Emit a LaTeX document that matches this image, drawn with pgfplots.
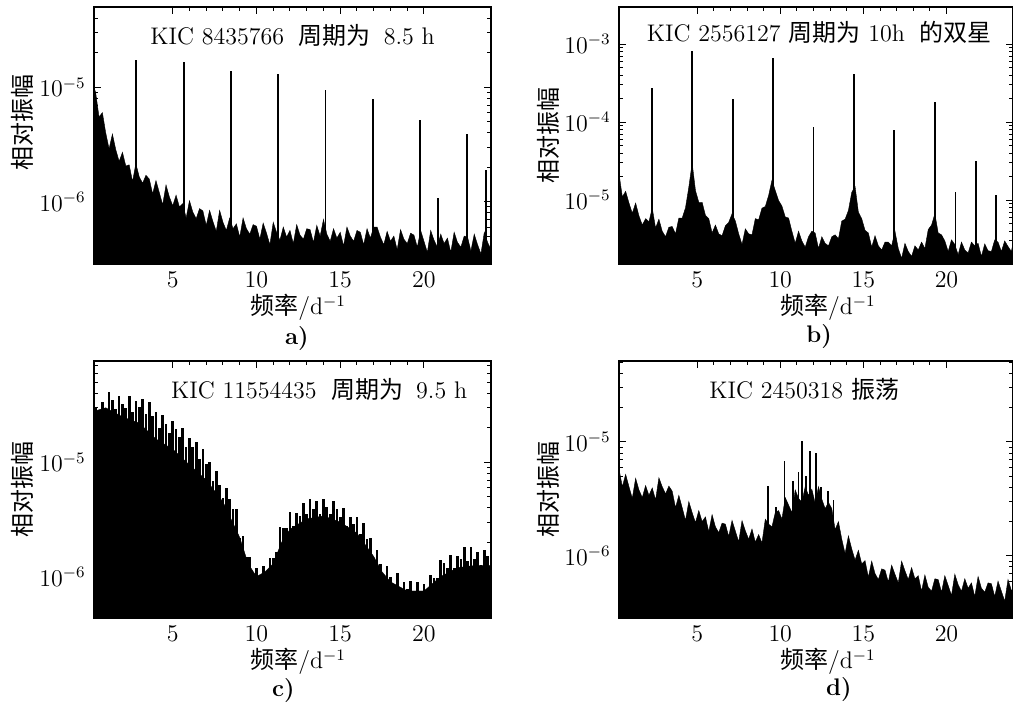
\documentclass[12pt,border=0pt]{standalone}
\usepackage{fontspec}
\newfontfamily\cjk{Noto Sans CJK SC}
\usepackage{pgfplots}
\pgfplotsset{compat=1.18}

% amplitudes are given in units of 1e-6 (relative amplitude)
\pgfplotsset{
  kicaxis/.style={
    scale only axis, height=128.5pt,
    log origin=infty, clip mode=individual,
    xmin=0.3, xmax=24,
    xtick={5,10,15,20}, minor x tick num=4,
    axis line style={line width=0.8pt},
    tick style={black, line width=0.5pt},
    major tick length=3.5pt, minor tick length=2pt,
    yticklabel={\pgfmathtruncatemacro\myexp{round(\tick/ln(10))-6}$10^{\myexp}$},
    ylabel={\cjk 相对振幅},
    xlabel={{\cjk 频率}/d$^{-1}$},
  },
  kicnoise/.style={black, fill=black, line width=0.2pt},
  kicspike/.style={ycomb, black, line width=0.9pt},
}

\begin{document}
\begin{tikzpicture}
\useasboundingbox (0,0) rectangle (506.5pt,354pt);

% ---------- a) ----------
\begin{axis}[ymode=log, kicaxis, at={(47pt,222pt)}, anchor=south west, width=198.5pt,
  ymin=0.285, ymax=50.4,
  ylabel style={at={(axis description cs:-0.18,0.55)}, rotate=0, anchor=center},
  xlabel style={at={(axis description cs:0.514,-0.17)}, anchor=center, inner sep=0.5pt}]
\addplot[kicnoise] table {
0.3 10.0
0.4 9.0
0.6 5.5
0.8 6.0
1.0 4.0
1.2 2.9
1.4 3.9
1.6 2.85
1.8 2.25
2.0 2.7
2.2 2.05
2.4 2.1
2.6 1.5
2.8 2.15
3.0 1.65
3.2 1.45
3.4 1.7
3.6 1.58
3.8 1.17
4.0 1.53
4.2 1.2
4.4 0.94
4.6 1.4
4.8 1.1
5.0 0.92
5.2 1.14
5.4 0.9
5.6 0.96
5.8 0.72
6.0 1.02
6.2 0.81
6.4 0.71
6.6 0.87
6.8 0.83
7.0 0.62
7.2 0.84
7.4 0.67
7.6 0.55
7.8 0.84
8.0 0.66
8.2 0.56
8.4 0.72
8.6 0.58
8.8 0.64
9.0 0.49
9.2 0.72
9.4 0.58
9.6 0.52
9.8 0.63
10.0 0.61
10.2 0.47
10.4 0.65
10.6 0.53
10.8 0.42
11.0 0.66
11.2 0.54
11.4 0.46
11.6 0.6
11.8 0.49
12.0 0.56
12.2 0.43
12.4 0.63
12.6 0.51
12.8 0.47
13.0 0.58
13.2 0.57
13.4 0.44
13.6 0.62
13.8 0.5
14.0 0.7
14.2 0.52
14.4 0.45
14.6 0.58
14.8 0.48
15.0 0.54
15.2 0.41
15.4 0.6
15.6 0.5
15.8 0.45
16.0 0.56
16.2 0.54
16.4 0.42
16.6 0.58
16.8 0.48
17.0 0.6
17.2 0.6
17.4 0.49
17.6 0.42
17.8 0.55
18.0 0.45
18.2 0.5
18.4 0.38
18.6 0.57
18.8 0.47
19.0 0.43
19.2 0.53
19.4 0.51
19.6 0.4
19.8 0.56
20.0 0.45
20.2 0.36
20.4 0.56
20.6 0.46
20.8 0.4
21.0 0.52
21.2 0.43
21.4 0.48
21.6 0.36
21.8 0.54
22.0 0.44
22.2 0.4
22.4 0.5
22.6 0.49
22.8 0.37
23.0 0.52
23.2 0.42
23.4 0.35
23.6 0.54
23.8 0.44
24.0 0.38
} \closedcycle;
\addplot[kicspike] coordinates {
(2.82,17.5) (5.65,16.8) (8.47,13.8) (11.29,13.0) (14.12,9.4)
(16.94,7.9) (19.76,5.2) (20.85,1.07) (22.59,3.9) (23.72,1.9)
};
\node at (axis description cs:0.5,0.89)
  {KIC 8435766\hspace{0.6em}{\cjk 周期为}\hspace{0.55em}8.5 h};
\node at (axis description cs:0.511,-0.288) {\textbf{a)}};
\end{axis}

% ---------- b) ----------
\begin{axis}[ymode=log, kicaxis, at={(309.5pt,222pt)}, anchor=south west, width=197pt,
  ymin=1.52, ymax=3000,
  ylabel style={at={(axis description cs:-0.178,0.5)}, rotate=0, anchor=center},
  xlabel style={at={(axis description cs:0.53,-0.17)}, anchor=center, inner sep=0.5pt}]
\addplot[kicnoise] table {
0.3 22
0.5 11
0.7 13
0.9 9.2
1.1 6.8
1.3 9.2
1.5 6.3
1.7 4.8
1.9 5.8
2.1 5.3
2.3 7.9
2.5 4.4
2.7 5.7
2.9 4.0
3.1 3.4
3.3 4.5
3.5 4.6
3.7 3.7
3.9 5.9
4.1 5.9
4.3 8.0
4.5 14.7
4.7 30
4.9 13.3
5.1 9.4
5.3 9.4
5.5 6.4
5.7 5.8
5.9 3.8
6.1 4.8
6.3 3.7
6.5 3.5
6.7 4.7
6.9 5.2
7.1 6.7
7.3 5.4
7.5 3.7
7.7 2.7
7.9 4.3
8.1 3.7
8.3 3.6
8.5 5.8
8.7 5.6
8.9 7.9
9.1 8.3
9.3 11.5
9.5 18
9.7 13.3
9.9 9.9
10.1 8.4
10.3 6.1
10.5 5.9
10.7 4.0
10.9 2.8
11.1 4.0
11.3 3.0
11.5 2.5
11.7 3.4
11.9 4.0
12.1 3.8
12.3 2.4
12.5 3.4
12.7 2.8
12.9 2.6
13.1 3.4
13.3 3.6
13.5 3.2
13.7 5.4
13.9 5.7
14.1 7.4
14.3 12.6
14.5 15
14.7 7.0
14.9 5.8
15.1 4.1
15.3 3.8
15.5 2.5
15.7 3.5
15.9 2.6
16.1 2.3
16.3 2.9
16.5 2.9
16.7 2.6
16.9 4.0
17.1 2.4
17.3 1.8
17.5 2.8
17.7 2.2
17.9 1.9
18.1 2.6
18.3 2.3
18.5 2.9
18.7 2.4
18.9 4.2
19.1 4.8
19.3 6.7
19.5 3.8
19.7 3.6
19.9 3.0
20.1 2.2
20.3 3.1
20.5 2.7
20.7 2.0
20.9 2.9
21.1 2.3
21.3 2.1
21.5 2.9
21.7 2.6
21.9 2.8
22.1 1.9
22.3 2.75
22.5 2.25
22.7 2.2
22.9 3.1
23.1 2.9
23.3 2.2
23.5 3.0
23.7 2.55
23.9 2.2
24.1 3.5
} \closedcycle;
\addplot[kicspike] coordinates {
(2.27,275) (4.70,810) (7.15,200) (9.56,660) (12.0,86) (14.44,420)
(16.85,79) (19.3,180) (20.54,12.7) (21.77,32) (22.97,11.5)
};
\node at (axis description cs:0.508,0.9)
  {KIC 2556127 {\cjk 周期为} 10h\hspace{0.6em}{\cjk 的双星}};
\node at (axis description cs:0.508,-0.283) {\textbf{b)}};
\end{axis}

% ---------- c) ----------
\begin{axis}[ymode=log, kicaxis, at={(47pt,45pt)}, anchor=south west, width=198.5pt,
  ymin=0.435, ymax=77,
  ylabel style={at={(axis description cs:-0.18,0.5)}, rotate=0, anchor=center},
  xlabel style={at={(axis description cs:0.514,-0.17)}, anchor=center, inner sep=0.5pt}]
\addplot[kicnoise] table {
0.3 28
1 30
2 25
3 22
4 16
5 13
6 9.5
7 7
8 4.5
9 2.2
9.5 1.3
10 1.0
10.5 1.1
11 1.3
11.5 2.0
12 2.6
13 3.2
14 3.4
15 3.0
16 2.4
17 1.5
17.5 1.1
18 0.9
19 0.75
20 0.75
21 1.0
22 1.2
23 1.25
24 1.25
} \closedcycle;
\addplot[ycomb, black, line width=1.35pt] table {
0.4 30
0.6 26.4
0.8 34
1.0 28
1.2 40.9
1.4 34.9
1.6 29.3
1.8 38
2.0 32.6
2.2 29.6
2.4 37.8
2.6 27.7
2.8 34.2
3.0 30.3
3.2 36
3.4 26.6
3.6 34
3.8 25.6
4.0 27.6
4.2 20
4.4 25.7
4.6 21.7
4.8 18
5.0 23
5.2 19.4
5.4 16.6
5.6 19.9
5.8 13.7
6.0 16.2
6.2 13.5
6.4 15
6.6 10.6
6.8 13
7.0 9.6
7.2 10.1
7.4 6.9
7.6 8.4
7.8 6.4
8.0 4.9
8.2 6.0
8.4 4.8
8.6 3.9
8.8 3.9
9.0 2.2
9.2 2.25
9.4 1.5
9.6 1.5
9.8 1.0
10.0 1.2
10.2 1.0
10.4 1.24
10.6 1.0
10.8 1.47
11.0 1.45
11.2 1.65
11.4 2.7
11.6 2.64
11.8 2.65
12.0 3.7
12.2 2.8
12.4 3.6
12.6 3.4
12.8 4.4
13.0 3.5
13.2 4.75
13.4 3.9
13.6 4.55
13.8 3.5
14.0 4.75
14.2 4.1
14.4 3.5
14.6 4.55
14.8 3.9
15.0 3.35
15.2 4.0
15.4 2.8
15.6 3.3
15.8 2.9
16.0 3.3
16.2 2.35
16.4 2.95
16.6 2.15
16.8 2.2
17.0 1.47
17.2 1.7
17.4 1.28
17.6 1.0
17.8 1.25
18.0 1.0
18.2 0.87
18.4 1.07
18.6 0.76
18.8 0.9
19.0 0.78
19.2 0.92
19.4 0.68
19.6 0.9
19.8 0.72
20.0 0.86
20.2 0.7
20.4 1.03
20.6 0.98
20.8 0.98
21.0 1.4
21.2 1.32
21.4 1.2
21.6 1.55
21.8 1.19
22.0 1.53
22.2 1.43
22.4 1.8
22.6 1.37
22.8 1.8
23.0 1.44
23.2 1.66
23.4 1.26
23.6 1.71
23.8 1.53
24.0 1.35
};
\node at (axis description cs:0.567,0.89)
  {KIC 11554435\hspace{0.6em}{\cjk 周期为}\hspace{0.55em}9.5 h};
\node at (axis description cs:0.477,-0.284) {\textbf{c)}};
\end{axis}

% ---------- d) ----------
\begin{axis}[ymode=log, kicaxis, at={(309.5pt,45pt)}, anchor=south west, width=197pt,
  ymin=0.285, ymax=51.4,
  ylabel style={at={(axis description cs:-0.178,0.5)}, rotate=0, anchor=center},
  xlabel style={at={(axis description cs:0.53,-0.17)}, anchor=center, inner sep=0.5pt}]
\addplot[kicnoise] table {
0.3 5.8
0.5 4.05
0.7 5.2
0.9 4.05
1.1 3.2
1.3 4.8
1.5 3.8
1.7 3.25
1.9 4.15
2.1 3.4
2.3 3.95
2.5 3.1
2.7 4.85
2.9 4.05
3.1 3.5
3.3 4.1
3.5 3.7
3.7 2.65
3.9 3.4
4.1 2.65
4.3 2.05
4.5 3.0
4.7 2.4
4.9 1.96
5.1 2.5
5.3 2.0
5.5 2.2
5.7 1.63
5.9 2.3
6.1 1.8
6.3 1.6
6.5 1.94
6.7 1.9
6.9 1.48
7.1 2.05
7.3 1.65
7.5 1.33
7.7 2.04
7.9 1.66
8.1 1.4
8.3 1.72
8.5 1.32
8.7 1.54
8.9 1.3
9.1 2.1
9.3 1.9
9.5 1.8
9.7 2.4
9.9 2.5
10.1 2.1
10.3 3.25
10.5 2.8
10.7 2.4
10.9 3.8
11.1 3.2
11.3 2.96
11.5 4.05
11.7 3.4
11.9 3.85
12.1 2.9
12.3 4.05
12.5 3.15
12.7 2.6
12.9 2.95
13.1 2.6
13.3 1.7
13.5 2.0
13.7 1.4
13.9 1.05
14.1 1.5
14.3 1.15
14.5 0.92
14.7 1.12
14.9 0.85
15.1 0.91
15.3 0.65
15.5 0.9
15.7 0.7
15.9 0.62
16.1 0.77
16.3 0.75
16.5 0.59
16.7 0.83
16.9 0.69
17.1 0.58
17.3 0.9
17.5 0.74
17.7 0.62
17.9 0.79
18.1 0.63
18.3 0.67
18.5 0.49
18.7 0.68
18.9 0.53
19.1 0.49
19.3 0.63
19.5 0.62
19.7 0.48
19.9 0.67
20.1 0.55
20.3 0.45
20.5 0.69
20.7 0.56
20.9 0.49
21.1 0.63
21.3 0.52
21.5 0.58
21.7 0.44
21.9 0.66
22.1 0.52
22.3 0.48
22.5 0.58
22.7 0.57
22.9 0.44
23.1 0.6
23.3 0.49
23.5 0.4
23.7 0.62
23.9 0.5
24.1 0.43
} \closedcycle;
\addplot[kicspike] coordinates {
(9.26,4.1) (9.72,2.7) (10.26,6.8) (10.76,4.5) (11.1,5.4) (11.29,10.3)
(11.57,5.0) (11.8,8.3) (12.17,8.0) (12.45,4.0) (12.87,3.7) (13.2,3.1)
};
\node at (axis description cs:0.47,0.89) {KIC 2450318 {\cjk 振荡}};
\node at (axis description cs:0.558,-0.28) {\textbf{d)}};
\end{axis}
\end{tikzpicture}
\end{document}
